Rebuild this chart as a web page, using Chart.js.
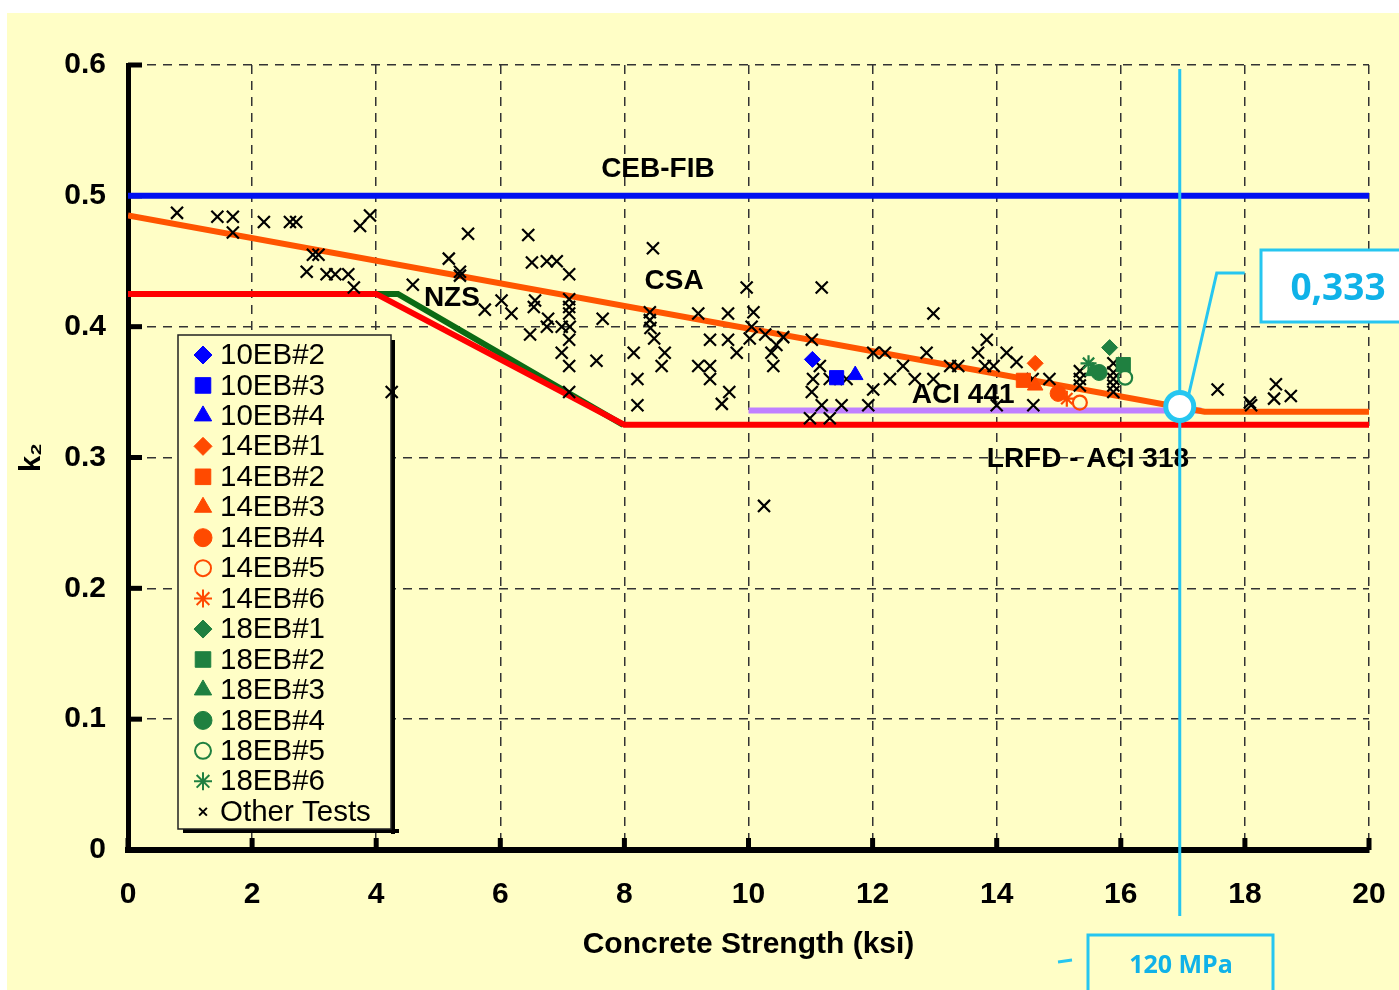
<!DOCTYPE html>
<html>
<head>
<meta charset="utf-8">
<script src="https://cdn.jsdelivr.net/npm/chart.js@4.4.0/dist/chart.umd.min.js"></script>
<style>
  html, body { margin: 0; padding: 0; background: #fff; }
  canvas { display: block; }
</style>
</head>
<body>
<canvas id="grafico" width="1399" height="990"></canvas>
<script>
// eixos
const xTicks = [0, 2, 4, 6, 8, 10, 12, 14, 16, 18, 20]
const xTickLabels = ["0", "2", "4", "6", "8", "10", "12", "14", "16", "18", "20"]
const yTickLabels = ["0", "0.1", "0.2", "0.3", "0.4", "0.5", "0.6"]

// curvas das normas
const cebFib = [[0, 0.5], [20, 0.5]]
const csa = [[0, 0.485], [17.35, 0.335], [20, 0.335]]
const lrfdAci318 = [[0, 0.425], [4, 0.425], [8, 0.325], [20, 0.325]]
const nzs = [[4, 0.425], [4.35, 0.425], [7.98, 0.325]]
const aci441 = [[10, 0.336], [17.3, 0.336]]

// ensaios
const eb10_2 = [[11.03, 0.375]]
const eb10_3 = [[11.42, 0.361]]
const eb10_4 = [[11.72, 0.363]]
const eb14_1 = [[14.62, 0.372]]
const eb14_2 = [[14.43, 0.359]]
const eb14_3 = [[14.62, 0.355]]
const eb14_4 = [[14.99, 0.349]]
const eb14_5 = [[15.34, 0.342]]
const eb14_6 = [[15.13, 0.345]]
const eb18_1 = [[15.82, 0.384]]
const eb18_2 = [[16.04, 0.371]]
const eb18_3 = [[15.55, 0.366]]
const eb18_4 = [[15.65, 0.365]]
const eb18_5 = [[16.07, 0.361]]
const eb18_6 = [[15.48, 0.372]]
const outros = [
    [0.79, 0.487], [1.44, 0.484], [1.69, 0.484], [1.69, 0.472], [2.19, 0.480], [2.61, 0.480], [2.71, 0.480],
    [3.74, 0.477], [3.90, 0.485], [5.48, 0.471], [2.98, 0.455], [3.07, 0.455], [2.88, 0.442], [3.20, 0.440],
    [3.34, 0.440], [3.55, 0.440], [3.64, 0.430], [4.59, 0.432], [5.17, 0.452], [5.35, 0.442], [5.35, 0.439],
    [5.75, 0.413], [4.25, 0.350],
    [6.45, 0.470], [6.51, 0.449], [6.75, 0.450], [6.91, 0.450], [7.11, 0.440], [8.46, 0.460],
    [6.02, 0.420], [6.18, 0.410], [6.56, 0.420], [6.54, 0.415], [6.77, 0.406], [6.75, 0.400], [6.48, 0.394],
    [6.99, 0.400], [7.11, 0.421], [7.11, 0.415], [7.11, 0.410], [7.12, 0.400], [7.11, 0.390], [6.99, 0.380],
    [7.11, 0.370], [7.65, 0.406], [7.55, 0.374], [7.11, 0.350], [8.41, 0.411], [8.41, 0.405], [8.42, 0.399],
    [8.48, 0.391], [8.65, 0.380], [8.60, 0.370], [8.15, 0.380], [8.21, 0.360], [8.21, 0.340], [9.19, 0.410],
    [9.67, 0.410], [9.97, 0.430], [10.08, 0.411], [10.05, 0.400], [10.02, 0.391], [9.38, 0.390], [9.67, 0.390],
    [9.81, 0.380], [9.19, 0.370], [9.38, 0.370], [9.38, 0.360], [9.69, 0.350], [9.57, 0.341],
    [11.18, 0.430], [12.98, 0.410], [10.27, 0.394], [10.56, 0.392], [10.45, 0.386], [10.37, 0.380], [10.40, 0.370],
    [11.02, 0.390], [11.15, 0.370], [11.04, 0.360], [11.02, 0.350], [11.18, 0.340], [10.99, 0.330], [11.31, 0.330],
    [11.50, 0.340], [11.31, 0.360], [11.58, 0.360], [12.01, 0.352], [11.93, 0.340], [12.01, 0.380], [12.20, 0.380],
    [12.49, 0.370], [12.28, 0.360], [12.68, 0.360], [12.87, 0.380], [12.98, 0.360], [13.70, 0.380], [13.84, 0.390],
    [13.81, 0.370], [14.00, 0.340], [10.25, 0.263],
    [14.16, 0.380], [14.32, 0.373], [13.95, 0.370], [13.25, 0.370], [13.38, 0.370], [14.58, 0.360], [14.85, 0.360],
    [14.59, 0.340], [15.34, 0.366], [15.34, 0.360], [15.34, 0.355], [15.88, 0.372], [15.88, 0.365], [15.88, 0.360],
    [15.88, 0.355], [15.88, 0.350],
    [17.56, 0.352], [18.08, 0.342], [18.10, 0.340], [18.50, 0.356], [18.47, 0.345], [18.74, 0.347]
]

// anotação
const marcaX = 16.95
const marcaY = 0.339
const rotuloValor = "0,333"
const rotuloMPa = "120 MPa"

const FONTE = "'Liberation Sans', Arial, Helvetica, sans-serif"
const amarelo = "#FFFEC6"
const ciano = "#26C6F0"
const cianoTexto = "#10B2E8"
const azul = "#0000FF"
const laranja = "#FF4A00"
const verde = "#1F8040"

const pts = (arr) => arr.map((p) => ({ x: p[0], y: p[1] }))

const series = [
    { label: "10EB#2", data: eb10_2, cor: azul, estilo: "rectRot", r: 8 },
    { label: "10EB#3", data: eb10_3, cor: azul, estilo: "rect", r: 10 },
    { label: "10EB#4", data: eb10_4, cor: azul, estilo: "triangle", r: 9 },
    { label: "14EB#1", data: eb14_1, cor: laranja, estilo: "rectRot", r: 8 },
    { label: "14EB#2", data: eb14_2, cor: laranja, estilo: "rect", r: 10 },
    { label: "14EB#3", data: eb14_3, cor: laranja, estilo: "triangle", r: 9 },
    { label: "14EB#4", data: eb14_4, cor: laranja, estilo: "circle", r: 8 },
    { label: "14EB#5", data: eb14_5, cor: laranja, estilo: "circle", r: 7, aberto: true },
    { label: "14EB#6", data: eb14_6, cor: laranja, estilo: "star", r: 8, aberto: true },
    { label: "18EB#1", data: eb18_1, cor: verde, estilo: "rectRot", r: 8 },
    { label: "18EB#2", data: eb18_2, cor: verde, estilo: "rect", r: 10 },
    { label: "18EB#3", data: eb18_3, cor: verde, estilo: "triangle", r: 9 },
    { label: "18EB#4", data: eb18_4, cor: verde, estilo: "circle", r: 8 },
    { label: "18EB#5", data: eb18_5, cor: verde, estilo: "circle", r: 7, aberto: true },
    { label: "18EB#6", data: eb18_6, cor: verde, estilo: "star", r: 8, aberto: true },
    { label: "Other Tests", data: outros, cor: "#000000", estilo: "crossRot", r: 8.5, aberto: true, pequeno: true }
]

const linhas = [
    { data: cebFib, cor: "#0010F0" },
    { data: csa, cor: "#FF5500" },
    { data: lrfdAci318, cor: "#FF0000" },
    { data: nzs, cor: "#0B6B14" },
    { data: aci441, cor: "#C080FF" }
]

const rotulos = [
    { texto: "CEB-FIB", x: 8.54, y: 0.5206 },
    { texto: "CSA", x: 8.80, y: 0.4344 },
    { texto: "NZS", x: 5.22, y: 0.4214 },
    { texto: "ACI 441", x: 13.46, y: 0.3473 },
    { texto: "LRFD - ACI 318", x: 15.47, y: 0.2985 }
]

const datasets = []
series.forEach((s) => {
    datasets.push({
        label: s.label,
        data: pts(s.data),
        pointStyle: s.estilo,
        pointRadius: s.r,
        pointHoverRadius: s.r,
        pointBackgroundColor: s.aberto ? "rgba(0,0,0,0)" : s.cor,
        pointBorderColor: s.cor,
        pointBorderWidth: s.aberto ? 2.2 : 1,
        showLine: false,
        order: 0
    })
})
linhas.forEach((l, i) => {
    datasets.push({
        data: pts(l.data),
        showLine: true,
        borderColor: l.cor,
        borderWidth: 6,
        pointRadius: 0,
        fill: false,
        tension: 0,
        order: i + 1
    })
})

const fundo = {
    id: "fundo",
    beforeDraw(chart) {
        const ctx = chart.ctx
        ctx.save()
        ctx.fillStyle = "#ffffff"
        ctx.fillRect(0, 0, chart.width, chart.height)
        ctx.fillStyle = amarelo
        ctx.fillRect(7, 13, chart.width - 7, chart.height - 13)
        ctx.restore()
    }
}

// marcas dos eixos para dentro + caixa da legenda
const marcasELegenda = {
    id: "marcasELegenda",
    beforeDatasetsDraw(chart) {
        const { ctx, chartArea, scales } = chart
        ctx.save()
        ctx.strokeStyle = "#000"
        ctx.lineWidth = 5
        scales.y.ticks.forEach((t) => {
            const py = scales.y.getPixelForValue(t.value)
            ctx.beginPath()
            ctx.moveTo(chartArea.left, py)
            ctx.lineTo(chartArea.left + 14, py)
            ctx.stroke()
        })
        scales.x.ticks.forEach((t) => {
            const px = scales.x.getPixelForValue(t.value)
            ctx.beginPath()
            ctx.moveTo(px, chartArea.bottom)
            ctx.lineTo(px, chartArea.bottom - 12)
            ctx.stroke()
        })

        const x0 = 178, y0 = 335, w = 213, h = 494
        ctx.fillStyle = "#000"
        ctx.fillRect(x0 + w, y0 + 5, 4, h)
        ctx.fillRect(x0 + 5, y0 + h, w + 3, 4)
        ctx.fillStyle = amarelo
        ctx.fillRect(x0, y0, w, h)
        ctx.strokeStyle = "#222"
        ctx.lineWidth = 1.5
        ctx.strokeRect(x0, y0, w, h)
        series.forEach((s, i) => {
            const y = 355 + i * 30.45
            ctx.fillStyle = s.aberto ? "rgba(0,0,0,0)" : s.cor
            ctx.strokeStyle = s.cor
            ctx.lineWidth = s.aberto ? 2 : 1
            const r = s.pequeno ? 5.5 : s.r + 1
            Chart.helpers.drawPoint(ctx, { pointStyle: s.estilo, radius: r, rotation: 0, borderWidth: ctx.lineWidth }, 203, y)
            ctx.fillStyle = "#000"
            ctx.font = "29.5px " + FONTE
            ctx.textAlign = "left"
            ctx.textBaseline = "middle"
            ctx.fillText(s.label, 220, y + 1)
        })
        ctx.restore()
    }
}

const textos = {
    id: "textos",
    afterDatasetsDraw(chart) {
        const { ctx, scales } = chart
        ctx.save()
        ctx.fillStyle = "#000"
        ctx.font = "bold 28px " + FONTE
        ctx.textAlign = "center"
        ctx.textBaseline = "middle"
        rotulos.forEach((r) => {
            ctx.fillText(r.texto, scales.x.getPixelForValue(r.x), scales.y.getPixelForValue(r.y))
        })
        ctx.restore()
    }
}

const anotacao = {
    id: "anotacao",
    afterDraw(chart) {
        const { ctx, chartArea, scales } = chart
        const px = scales.x.getPixelForValue(marcaX)
        const py = scales.y.getPixelForValue(marcaY)
        ctx.save()
        ctx.strokeStyle = ciano
        ctx.lineWidth = 3
        ctx.beginPath()
        ctx.moveTo(px, chartArea.top + 4)
        ctx.lineTo(px, chartArea.bottom + 66)
        ctx.stroke()

        ctx.beginPath()
        ctx.moveTo(px + 9, py - 12)
        ctx.lineTo(px + 37, 273)
        ctx.lineTo(px + 65, 273)
        ctx.stroke()

        ctx.beginPath()
        ctx.arc(px, py, 14, 0, Math.PI * 2)
        ctx.fillStyle = "#fff"
        ctx.fill()
        ctx.lineWidth = 5
        ctx.stroke()

        ctx.lineWidth = 3
        ctx.fillStyle = "#fff"
        ctx.fillRect(1261, 250, 150, 72)
        ctx.strokeRect(1261, 250, 150, 72)
        ctx.fillStyle = cianoTexto
        ctx.font = "bold 37px 'Open Sans', sans-serif"
        ctx.textAlign = "center"
        ctx.textBaseline = "middle"
        ctx.fillText(rotuloValor, 1338, 289)

        ctx.strokeRect(1088, 935, 185, 80)
        ctx.font = "bold 25px 'Open Sans', sans-serif"
        ctx.fillText(rotuloMPa, 1181, 966)

        ctx.beginPath()
        ctx.moveTo(1058, 962)
        ctx.lineTo(1072, 960)
        ctx.stroke()
        ctx.restore()
    }
}

Chart.defaults.font.family = FONTE

const grafico = document.getElementById("grafico")

new Chart(grafico, {
    type: "scatter",
    data: { datasets: datasets },
    options: {
        responsive: false,
        animation: false,
        devicePixelRatio: 1,
        layout: { padding: { top: 65, right: 30, left: 0, bottom: 0 } },
        plugins: {
            legend: { display: false },
            tooltip: { enabled: false }
        },
        scales: {
            x: {
                type: "linear",
                min: 0,
                max: 20,
                afterFit: (scale) => {
                    scale.height = 140
                    scale.paddingLeft = 0
                    scale.paddingRight = 0
                },
                afterBuildTicks: (scale) => { scale.ticks = xTicks.map((v) => ({ value: v })) },
                ticks: {
                    callback: (v, i) => xTickLabels[i],
                    color: "#000",
                    padding: 27,
                    maxRotation: 0,
                    font: { size: 30, weight: "bold" }
                },
                grid: { color: "#333", lineWidth: 1.5, drawTicks: false },
                border: { color: "#000", width: 6, dash: [9, 7] },
                title: {
                    display: true,
                    text: "Concrete Strength (ksi)",
                    color: "#000",
                    font: { size: 30, weight: "bold" },
                    padding: { top: 0, bottom: 27 }
                }
            },
            y: {
                type: "linear",
                min: 0,
                max: 0.6,
                afterFit: (scale) => { scale.width = 128 },
                ticks: {
                    stepSize: 0.1,
                    callback: (v, i) => yTickLabels[i],
                    color: "#000",
                    padding: 22,
                    font: { size: 30, weight: "bold" }
                },
                grid: { color: "#333", lineWidth: 1.5, drawTicks: false },
                border: { color: "#000", width: 5, dash: [9, 7] },
                title: {
                    display: true,
                    text: "k₂",
                    color: "#000",
                    font: { size: 29, weight: "bold" },
                    padding: { top: 15, bottom: 0 }
                }
            }
        }
    },
    plugins: [fundo, marcasELegenda, textos, anotacao]
})
</script>
</body>
</html>
